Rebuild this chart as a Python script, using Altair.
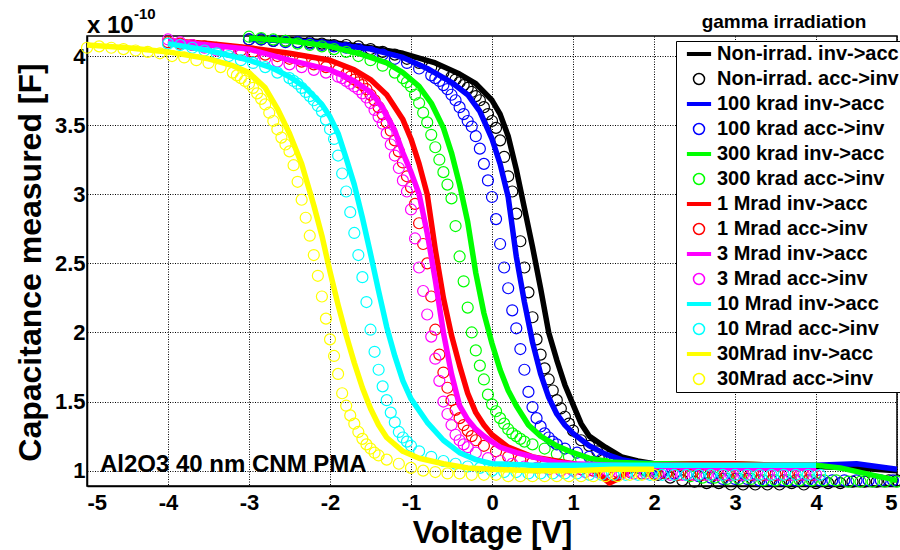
import altair as alt
import pandas as pd

FONT = "Liberation Sans"

# ---------------- series definitions ----------------
series_names = [
    "Non-irrad. inv->acc", "Non-irrad. acc->inv",
    "100 krad inv->acc", "100 krad acc->inv",
    "300 krad inv->acc", "300 krad acc->inv",
    "1 Mrad inv->acc", "1 Mrad acc->inv",
    "3 Mrad inv->acc", "3 Mrad acc->inv",
    "10 Mrad inv->acc", "10 Mrad acc->inv",
    "30Mrad inv->acc", "30Mrad acc->inv",
]
series_colors = [
    "#000000", "#000000", "#0000ff", "#0000ff", "#00ff00", "#00ff00",
    "#ff0000", "#ff0000", "#ff00ff", "#ff00ff", "#00ffff", "#00ffff",
    "#ffff00", "#ffff00",
]
LINE_SYMBOL = "M-2.2,-0.22L2.2,-0.22M-2.2,0L2.2,0M-2.2,0.22L2.2,0.22"
series_shapes = [LINE_SYMBOL, "circle"] * 7

x_ticks = [-5, -4, -3, -2, -1, 0, 1, 2, 3, 4, 5]
y_ticks = [1, 1.5, 2, 2.5, 3, 3.5, 4]

# ---------------- data (capacitance in units of 1e-10 F) ----------------
# Non-irradiated
black_line_v = [-3.0, -2.5, -2.0, -1.5, -1.1, -0.7, -0.4, -0.2, 0.0, 0.1, 0.2, 0.3, 0.4, 0.5, 0.6, 0.7, 0.8, 0.9, 1.0, 1.1,
                1.2, 1.4, 1.6, 1.8, 2.0, 2.5, 3.0, 3.5, 4.0, 4.5, 5.0]
black_line_c = [4.13, 4.12, 4.10, 4.06, 4.02, 3.95, 3.87, 3.80, 3.68, 3.58, 3.42, 3.18, 2.90, 2.62, 2.32, 2.00, 1.80, 1.62,
                1.48, 1.34, 1.25, 1.17, 1.10, 1.07, 1.05, 1.04, 1.04, 1.03, 1.03, 1.02, 1.00]
black_pts_v = [-3.0, -2.85, -2.7, -2.55, -2.4, -2.25, -2.1, -1.95, -1.8, -1.65, -1.5, -1.35, -1.2, -1.05, -0.9, -0.75, -0.6,
               -0.5, -0.45, -0.4, -0.35, -0.3, -0.25, -0.2, -0.15, -0.1, -0.05, 0.0, 0.05, 0.1, 0.15, 0.2, 0.25, 0.3,
               0.35, 0.4, 0.45, 0.5, 0.55, 0.6, 0.65, 0.7, 0.75, 0.8, 0.85, 0.9, 0.95, 1.0,
               1.1, 1.2, 1.3, 1.45, 1.6, 1.75, 1.9, 2.05, 2.2, 2.35, 2.5, 2.65, 2.8, 2.95, 3.1, 3.25, 3.4, 3.55, 3.7,
               3.85, 4.0, 4.15, 4.3, 4.45, 4.6, 4.75, 4.9, 5.0]
black_pts_c = [4.12, 4.12, 4.11, 4.11, 4.10, 4.10, 4.09, 4.08, 4.08, 4.07, 4.05, 4.03, 4.01, 3.98, 3.95, 3.92, 3.88,
               3.85, 3.83, 3.81, 3.79, 3.77, 3.74, 3.71, 3.68, 3.63, 3.58, 3.53, 3.48, 3.39, 3.27, 3.13, 3.02, 2.86,
               2.66, 2.47, 2.29, 2.11, 1.95, 1.84, 1.74, 1.66, 1.58, 1.51, 1.45, 1.39, 1.34, 1.29,
               1.22, 1.18, 1.14, 1.10, 1.06, 1.03, 1.00, 0.97, 0.95, 0.93, 0.92, 0.91, 0.91, 0.90, 0.90, 0.90, 0.90,
               0.90, 0.91, 0.90, 0.91, 0.91, 0.91, 0.92, 0.92, 0.92, 0.93, 0.93]

# 100 krad
blue_line_v = [-3.0, -2.5, -2.0, -1.5, -1.1, -0.8, -0.5, -0.3, -0.15, 0.0, 0.1, 0.2, 0.3, 0.4, 0.5, 0.6, 0.7, 0.8, 0.9, 1.0,
               1.2, 1.4, 1.6, 1.8, 2.0, 2.5, 3.0, 3.5, 4.0, 4.5, 5.0]
blue_line_c = [4.12, 4.11, 4.09, 4.05, 3.99, 3.91, 3.81, 3.72, 3.60, 3.40, 3.22, 2.98, 2.55, 2.22, 1.93, 1.70, 1.53, 1.41,
               1.33, 1.27, 1.18, 1.12, 1.08, 1.06, 1.05, 1.04, 1.04, 1.04, 1.04, 1.05, 1.01]
blue_pts_v = [-3.0, -2.85, -2.7, -2.55, -2.4, -2.25, -2.1, -1.95, -1.8, -1.65, -1.5, -1.35, -1.2, -1.05, -0.9, -0.75,
              -0.7, -0.65, -0.6, -0.55, -0.5, -0.45, -0.4, -0.35, -0.3, -0.25, -0.2, -0.15, -0.1, -0.05, 0.0, 0.05,
              0.1, 0.15, 0.2, 0.25, 0.3, 0.35, 0.4, 0.45, 0.5, 0.55, 0.6, 0.65, 0.7, 0.75, 0.8,
              0.9, 1.05, 1.2, 1.35, 1.5, 1.65, 1.8, 1.95, 2.1, 2.25, 2.4, 2.55, 2.7, 2.85, 3.0, 3.15, 3.3, 3.45, 3.6,
              3.75, 3.9, 4.05, 4.2, 4.35, 4.5, 4.65, 4.8, 4.95]
blue_pts_c = [4.12, 4.12, 4.11, 4.10, 4.10, 4.09, 4.08, 4.07, 4.06, 4.05, 4.03, 4.01, 3.98, 3.95, 3.91, 3.86,
              3.84, 3.82, 3.79, 3.76, 3.72, 3.68, 3.63, 3.58, 3.53, 3.49, 3.42, 3.33, 3.22, 3.10, 2.98, 2.82,
              2.64, 2.47, 2.32, 2.16, 2.03, 1.88, 1.73, 1.57, 1.46, 1.38, 1.32, 1.27, 1.24, 1.21, 1.19,
              1.16, 1.13, 1.10, 1.08, 1.06, 1.04, 1.02, 1.00, 0.99, 0.98, 0.97, 0.96, 0.95, 0.94, 0.94, 0.94, 0.93,
              0.93, 0.93, 0.93, 0.93, 0.93, 0.93, 0.93, 0.93, 0.93, 0.93, 0.93]

# 300 krad
green_line_v = [-3.0, -2.5, -2.0, -1.6, -1.3, -1.1, -0.9, -0.75, -0.6, -0.5, -0.4, -0.3, -0.2, -0.1, 0.0, 0.1, 0.2, 0.3,
                0.45, 0.6, 0.8, 1.0, 1.2, 1.5, 2.0, 2.5, 3.0, 3.5, 4.0, 4.3, 4.6, 5.0]
green_line_c = [4.13, 4.11, 4.07, 4.01, 3.95, 3.88, 3.78, 3.66, 3.48, 3.30, 3.07, 2.80, 2.43, 2.14, 1.92, 1.73, 1.58, 1.47,
                1.33, 1.25, 1.18, 1.13, 1.09, 1.06, 1.05, 1.05, 1.05, 1.04, 1.04, 1.02, 0.98, 0.93]
green_pts_v = [-3.0, -2.85, -2.7, -2.55, -2.4, -2.25, -2.1, -1.95, -1.8, -1.65, -1.5, -1.35, -1.2,
               -1.1, -1.05, -1.0, -0.95, -0.9, -0.85, -0.8, -0.75, -0.7, -0.65, -0.6, -0.55, -0.5, -0.45, -0.4,
               -0.35, -0.3, -0.25, -0.2, -0.15, -0.1, -0.05, 0.0, 0.05, 0.1, 0.15, 0.2, 0.25, 0.3, 0.35, 0.4,
               0.5, 0.65, 0.8, 0.95, 1.1, 1.25, 1.4, 1.55, 1.7, 1.85, 2.0, 2.15, 2.3, 2.45, 2.6, 2.75, 2.9, 3.05,
               3.2, 3.35, 3.5, 3.65, 3.8, 3.95, 4.1, 4.25, 4.4, 4.55, 4.7, 4.85, 5.0]
green_pts_c = [4.14, 4.13, 4.12, 4.11, 4.09, 4.08, 4.07, 4.05, 4.03, 4.00, 3.97, 3.93, 3.88,
               3.84, 3.81, 3.78, 3.72, 3.66, 3.59, 3.52, 3.43, 3.34, 3.25, 3.16, 3.07, 2.97, 2.77, 2.55,
               2.37, 2.18, 2.00, 1.87, 1.76, 1.66, 1.55, 1.48, 1.43, 1.38, 1.34, 1.30, 1.27, 1.25, 1.23, 1.21,
               1.19, 1.16, 1.12, 1.10, 1.08, 1.06, 1.05, 1.03, 1.02, 1.01, 1.00, 0.98, 0.97, 0.96, 0.95, 0.95,
               0.94, 0.94, 0.94, 0.93, 0.93, 0.93, 0.93, 0.93, 0.93, 0.93, 0.92, 0.92, 0.92, 0.92, 0.92]

# 1 Mrad
red_line_v = [-4.0, -3.5, -3.0, -2.5, -2.0, -1.7, -1.5, -1.3, -1.1, -1.0, -0.9, -0.8, -0.7, -0.6, -0.5, -0.4, -0.3, -0.2,
              -0.1, 0.0, 0.2, 0.5, 0.8, 1.0, 1.2, 1.35, 1.45, 1.55, 1.7, 2.0, 2.5, 3.0, 3.5, 4.0]
red_line_c = [4.11, 4.09, 4.06, 4.02, 3.97, 3.90, 3.83, 3.72, 3.54, 3.40, 3.22, 3.00, 2.60, 2.25, 1.98, 1.76, 1.56, 1.42,
              1.33, 1.26, 1.17, 1.10, 1.07, 1.05, 1.02, 0.96, 0.91, 0.94, 1.00, 1.04, 1.05, 1.05, 1.04, 1.04]
red_pts_v = [-4.0, -3.85, -3.7, -3.55, -3.4, -3.25, -3.1, -2.95, -2.8, -2.65, -2.5, -2.35, -2.2, -2.05, -1.9,
             -1.8, -1.75, -1.7, -1.65, -1.6, -1.55, -1.5, -1.45, -1.4, -1.35, -1.3, -1.25, -1.2, -1.15, -1.1,
             -1.05, -1.0, -0.95, -0.9, -0.85, -0.8, -0.75, -0.7, -0.65, -0.6, -0.55, -0.5, -0.45, -0.4, -0.35,
             -0.3, -0.25, -0.2,
             -0.1, 0.05, 0.2, 0.35, 0.5, 0.65, 0.8, 0.95, 1.1, 1.25, 1.4, 1.55, 1.7, 1.85, 2.0, 2.15, 2.3, 2.45,
             2.6, 2.75, 2.9, 3.05, 3.2, 3.35, 3.5, 3.65, 3.8, 3.95]
red_pts_c = [4.10, 4.09, 4.08, 4.07, 4.06, 4.05, 4.04, 4.03, 4.01, 4.00, 3.98, 3.96, 3.94, 3.92, 3.90,
             3.87, 3.85, 3.83, 3.81, 3.79, 3.76, 3.72, 3.68, 3.63, 3.58, 3.52, 3.46, 3.39, 3.31, 3.23,
             3.13, 3.05, 2.93, 2.79, 2.64, 2.50, 2.26, 2.02, 1.84, 1.71, 1.60, 1.51, 1.44, 1.38, 1.33,
             1.29, 1.25, 1.22,
             1.18, 1.14, 1.10, 1.08, 1.06, 1.04, 1.03, 1.02, 1.01, 1.00, 1.00, 0.99, 0.99, 0.98, 0.98, 0.98, 0.97,
             0.97, 0.97, 0.97, 0.97, 0.97, 0.97, 0.97, 0.97, 0.97, 0.97, 0.97]

# 3 Mrad
magenta_line_v = [-4.0, -3.5, -3.0, -2.5, -2.0, -1.7, -1.5, -1.35, -1.2, -1.1, -1.0, -0.9, -0.8, -0.7, -0.6, -0.5, -0.4,
                  -0.3, -0.2, -0.1, 0.1, 0.3, 0.5, 0.8, 1.0, 1.5, 2.0, 2.5, 3.0, 3.5, 4.0]
magenta_line_c = [4.11, 4.08, 4.05, 3.97, 3.90, 3.82, 3.74, 3.63, 3.46, 3.30, 3.16, 3.00, 2.72, 2.38, 2.00, 1.70, 1.47,
                  1.37, 1.30, 1.25, 1.17, 1.13, 1.10, 1.06, 1.05, 1.04, 1.03, 1.03, 1.02, 1.02, 1.02]
magenta_pts_v = [-4.0, -3.85, -3.7, -3.55, -3.4, -3.25, -3.1, -2.95, -2.8, -2.65, -2.5, -2.35, -2.2, -2.05, -1.9,
                 -1.85, -1.8, -1.75, -1.7, -1.65, -1.6, -1.55, -1.5, -1.45, -1.4, -1.35, -1.3, -1.25, -1.2, -1.15,
                 -1.1, -1.05, -1.0, -0.95, -0.9, -0.85, -0.8, -0.75, -0.7, -0.65, -0.6, -0.55, -0.5, -0.45, -0.4,
                 -0.35, -0.3,
                 -0.2, -0.05, 0.1, 0.25, 0.4, 0.55, 0.7, 0.85, 1.0, 1.15, 1.3, 1.45, 1.6, 1.75, 1.9, 2.05, 2.2,
                 2.35, 2.5, 2.65, 2.8, 2.95, 3.1, 3.25, 3.4, 3.55, 3.7, 3.85, 4.0]
magenta_pts_c = [4.12, 4.10, 4.08, 4.06, 4.04, 4.03, 4.01, 4.00, 3.98, 3.96, 3.94, 3.92, 3.90, 3.88, 3.85,
                 3.84, 3.82, 3.80, 3.78, 3.76, 3.73, 3.70, 3.66, 3.61, 3.56, 3.51, 3.44, 3.36, 3.28, 3.19,
                 3.10, 3.02, 2.89, 2.68, 2.47, 2.30, 2.13, 1.97, 1.81, 1.65, 1.50, 1.41, 1.33, 1.26, 1.22,
                 1.19, 1.17,
                 1.13, 1.09, 1.07, 1.05, 1.03, 1.02, 1.01, 1.00, 1.00, 0.99, 0.99, 0.99, 0.98, 0.98, 0.98, 0.98,
                 0.97, 0.97, 0.97, 0.97, 0.97, 0.97, 0.97, 0.97, 0.97, 0.97, 0.97, 0.97, 0.97]

# 10 Mrad
cyan_line_v = [-4.0, -3.5, -3.0, -2.7, -2.5, -2.3, -2.1, -2.0, -1.9, -1.8, -1.7, -1.6, -1.5, -1.4, -1.3, -1.2, -1.1, -1.0,
               -0.8, -0.6, -0.4, -0.2, 0.0, 0.5, 1.0, 1.5, 2.0, 2.5, 3.0, 3.5, 4.0]
cyan_line_c = [4.09, 4.04, 3.97, 3.91, 3.85, 3.77, 3.65, 3.56, 3.44, 3.26, 3.07, 2.83, 2.57, 2.30, 2.04, 1.83, 1.65, 1.52,
               1.35, 1.22, 1.13, 1.08, 1.05, 1.04, 1.04, 1.04, 1.04, 1.04, 1.04, 1.04, 1.04]
cyan_pts_v = [-4.0, -3.85, -3.7, -3.55, -3.4, -3.25, -3.1, -2.95, -2.8, -2.65, -2.5,
              -2.45, -2.4, -2.35, -2.3, -2.25, -2.2, -2.15, -2.1, -2.05, -2.0, -1.95, -1.9, -1.85, -1.8, -1.75,
              -1.7, -1.65, -1.6, -1.55, -1.5, -1.45, -1.4, -1.35, -1.3, -1.25, -1.2, -1.15, -1.1, -1.05, -1.0,
              -0.9, -0.75, -0.6, -0.45, -0.3, -0.15, 0.0, 0.15, 0.3, 0.45, 0.6, 0.75, 0.9, 1.05, 1.2, 1.35, 1.5,
              1.65, 1.8, 1.95, 2.1, 2.25, 2.4, 2.55, 2.7, 2.85, 3.0, 3.15, 3.3, 3.45, 3.6, 3.75, 3.9, 4.05]
cyan_pts_c = [4.09, 4.08, 4.06, 4.04, 4.02, 4.00, 3.97, 3.95, 3.92, 3.88, 3.84,
              3.82, 3.80, 3.77, 3.74, 3.71, 3.68, 3.64, 3.60, 3.54, 3.47, 3.40, 3.28, 3.15, 3.02, 2.87,
              2.72, 2.56, 2.40, 2.22, 2.02, 1.86, 1.73, 1.61, 1.51, 1.42, 1.35, 1.28, 1.24, 1.21, 1.18,
              1.14, 1.10, 1.07, 1.05, 1.03, 1.02, 1.00, 0.99, 0.99, 0.98, 0.98, 0.98, 0.98, 0.98, 0.97, 0.97, 0.97,
              0.97, 0.97, 0.97, 0.97, 0.97, 0.97, 0.97, 0.97, 0.97, 0.97, 0.97, 0.97, 0.97, 0.97, 0.97, 0.97, 0.97]

# 30 Mrad
yellow_line_v = [-5.0, -4.5, -4.0, -3.5, -3.2, -3.0, -2.8, -2.65, -2.5, -2.35, -2.2, -2.1, -2.0, -1.9, -1.8, -1.7, -1.6,
                 -1.5, -1.4, -1.3, -1.1, -0.9, -0.6, -0.3, 0.0, 0.5, 1.0, 1.5, 2.0]
yellow_line_c = [4.08, 4.06, 4.03, 3.98, 3.93, 3.88, 3.77, 3.62, 3.44, 3.22, 2.92, 2.70, 2.44, 2.20, 1.98, 1.78, 1.60,
                 1.45, 1.33, 1.24, 1.14, 1.09, 1.05, 1.02, 1.01, 1.00, 1.00, 1.01, 1.01]
yellow_pts_v = [-5.0, -4.85, -4.7, -4.55, -4.4, -4.25, -4.1, -3.95, -3.8, -3.65, -3.5, -3.35, -3.2,
                -3.15, -3.1, -3.05, -3.0, -2.95, -2.9, -2.85, -2.8, -2.75, -2.7, -2.65, -2.6, -2.55, -2.5, -2.45,
                -2.4, -2.35, -2.3, -2.25, -2.2, -2.15, -2.1, -2.05, -2.0, -1.95, -1.9, -1.85, -1.8, -1.75, -1.7,
                -1.65, -1.6, -1.55, -1.5, -1.45, -1.4,
                -1.3, -1.15, -1.0, -0.85, -0.7, -0.55, -0.4, -0.25, -0.1, 0.05, 0.2, 0.35, 0.5, 0.65, 0.8, 0.95,
                1.1, 1.25, 1.4, 1.55, 1.7, 1.85, 2.0]
yellow_pts_c = [4.06, 4.07, 4.06, 4.05, 4.04, 4.03, 4.02, 4.00, 3.99, 3.97, 3.95, 3.92, 3.88,
                3.86, 3.84, 3.82, 3.80, 3.77, 3.73, 3.69, 3.65, 3.59, 3.53, 3.47, 3.41, 3.36, 3.31, 3.21,
                3.09, 2.96, 2.83, 2.70, 2.56, 2.41, 2.26, 2.10, 1.95, 1.83, 1.70, 1.56, 1.47, 1.40, 1.34,
                1.28, 1.23, 1.19, 1.16, 1.13, 1.11,
                1.08, 1.05, 1.02, 1.00, 0.99, 0.98, 0.98, 0.97, 0.97, 0.97, 0.96, 0.96, 0.96, 0.96, 0.96, 0.96,
                0.96, 0.96, 0.96, 0.96, 0.97, 0.97, 0.97]

line_data = [
    (black_line_v, black_line_c), (blue_line_v, blue_line_c), (green_line_v, green_line_c),
    (red_line_v, red_line_c), (magenta_line_v, magenta_line_c), (cyan_line_v, cyan_line_c),
    (yellow_line_v, yellow_line_c),
]
point_data = [
    (black_pts_v, black_pts_c), (blue_pts_v, blue_pts_c), (green_pts_v, green_pts_c),
    (red_pts_v, red_pts_c), (magenta_pts_v, magenta_pts_c), (cyan_pts_v, cyan_pts_c),
    (yellow_pts_v, yellow_pts_c),
]


def frame(v, c, name):
    n = min(len(v), len(c))
    return pd.DataFrame({"V": v[:n], "C": c[:n], "series": [name] * n})


# ---------------- encodings ----------------
x_axis = alt.Axis(
    values=x_ticks, labelExpr="'' + datum.value", grid=True, gridDash=[1, 1.5], gridColor="#000000",
    gridOpacity=1, gridWidth=1, ticks=False, tickSize=0, domainColor="#000000", domainWidth=1.5,
    labelFont=FONT, labelFontSize=22, labelFontWeight="bold", labelColor="#000000", labelPadding=6,
    titleFont=FONT, titleFontSize=31, titleFontWeight="bold", titleColor="#000000",
    titleX=405, titleY=56, titleBaseline="alphabetic", titleAlign="center",
)
y_axis = alt.Axis(
    values=y_ticks, labelExpr="'' + datum.value", grid=True, gridDash=[1, 1.5], gridColor="#000000",
    gridOpacity=1, gridWidth=1, ticks=False, tickSize=0, domainColor="#000000", domainWidth=1.5,
    labelFont=FONT, labelFontSize=22, labelFontWeight="bold", labelColor="#000000", labelPadding=2,
    titleFont=FONT, titleFontSize=32, titleFontWeight="bold", titleColor="#000000",
    titleX=-57, titleY=226, titleAngle=270, titleBaseline="middle", titleAlign="center",
)
x_enc = alt.X("V:Q", scale=alt.Scale(domain=[-5, 5], nice=False, zero=False), axis=x_axis, title="Voltage [V]")
y_enc = alt.Y("C:Q", scale=alt.Scale(domain=[0.889, 4.145], nice=False, zero=False), axis=y_axis,
              title="Capacitance measured [F]")

legend = alt.Legend(
    title=None, orient="none", legendX=589, legendY=5, direction="vertical",
    labelFont=FONT, labelFontSize=20, labelFontWeight="bold", labelColor="#000000", labelLimit=320,
    symbolSize=121, symbolStrokeWidth=1.5, symbolOffset=10, labelOffset=8, rowPadding=5, padding=3,
    strokeColor="#000000", fillColor="#ffffff", cornerRadius=0, symbolLimit=20,
)
color_enc = alt.Color("series:N", scale=alt.Scale(domain=series_names, range=series_colors), legend=legend)
shape_enc = alt.Shape("series:N", scale=alt.Scale(domain=series_names, range=series_shapes), legend=legend)

layers = []
for i in range(7):
    lv, lc = line_data[i]
    pv, pc = point_data[i]
    layers.append(
        alt.Chart(frame(lv, lc, series_names[2 * i]))
        .mark_line(color=series_colors[2 * i], strokeWidth=5.5, strokeJoin="round", strokeCap="butt")
        .encode(x=x_enc, y=y_enc)
    )
    layers.append(
        alt.Chart(frame(pv, pc, series_names[2 * i + 1]))
        .mark_point(filled=False, size=121, strokeWidth=1.2, opacity=1)
        .encode(x=x_enc, y=y_enc, color=color_enc, shape=shape_enc)
    )

annot = (
    alt.Chart(pd.DataFrame({"t": ["Al2O3 40 nm CNM PMA"]}))
    .mark_text(font=FONT, fontSize=24, fontWeight="bold", align="left", baseline="alphabetic", color="#000000")
    .encode(x=alt.datum(-4.84), y=alt.datum(0.99), text="t:N")
)
leg_title = (
    alt.Chart(pd.DataFrame({"t": ["gamma irradiation"]}))
    .mark_text(font=FONT, fontSize=19, fontWeight="bold", align="center", baseline="alphabetic", color="#000000")
    .encode(x=alt.value(697), y=alt.value(-8), text="t:N")
)
exp_base = (
    alt.Chart(pd.DataFrame({"t": ["x 10"]}))
    .mark_text(font=FONT, fontSize=24, fontWeight="bold", align="left", baseline="alphabetic", color="#000000")
    .encode(x=alt.value(0), y=alt.value(-3), text="t:N")
)
exp_pow = (
    alt.Chart(pd.DataFrame({"t": ["-10"]}))
    .mark_text(font=FONT, fontSize=15, fontWeight="bold", align="left", baseline="alphabetic", color="#000000")
    .encode(x=alt.value(47), y=alt.value(-17), text="t:N")
)

chart = (
    alt.layer(*layers, annot, leg_title, exp_base, exp_pow)
    .properties(
        width=810, height=450,
        padding={"left": 87, "top": 36, "right": 3, "bottom": 64},
        autosize=alt.AutoSizeParams(type="none"),
        background="#ffffff",
    )
    .configure_view(stroke="#000000", strokeWidth=1.5)
    .configure_axis(labelFont=FONT, labelFontWeight="bold", titleFont=FONT, titleFontWeight="bold")
)

chart.save("out.html", embed_options={"renderer": "svg", "actions": False})
